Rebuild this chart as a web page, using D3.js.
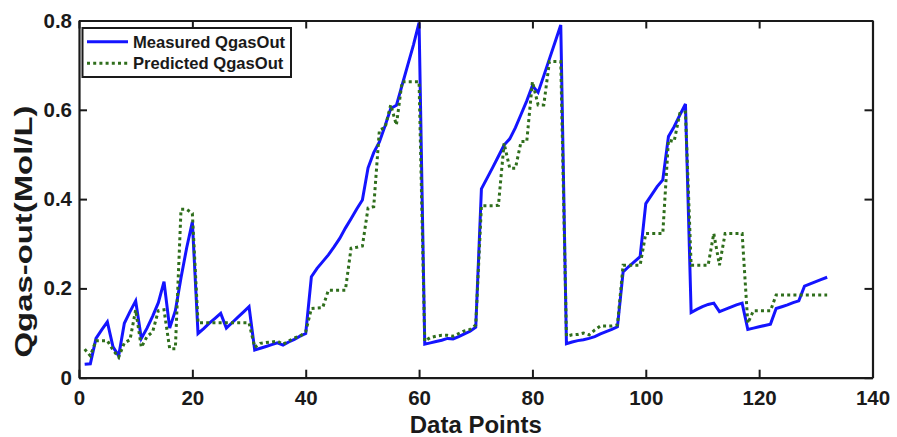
<!DOCTYPE html>
<html>
<head>
<meta charset="utf-8">
<script src="https://cdn.jsdelivr.net/npm/d3@7"></script>
<style>
  html, body { margin: 0; padding: 0; background: #fff; }
  svg { display: block; font-family: "Liberation Sans", Arial, sans-serif; font-weight: bold; }
</style>
</head>
<body>
<svg id="chart" width="897" height="437"></svg>
<script>
// Sample index along the x axis
const dataPoints = d3.range(1, 133);

// Measured gas outflow (Mol/L)
const measured = [
  0.030, 0.031, 0.088, 0.107, 0.125, 0.069, 0.049, 0.122, 0.148, 0.172,
  0.088, 0.111, 0.138, 0.168, 0.215, 0.111, 0.150, 0.224, 0.291, 0.349,
  0.099, 0.110, 0.122, 0.133, 0.144, 0.111, 0.123, 0.135, 0.147, 0.159,
  0.062, 0.066, 0.070, 0.074, 0.078, 0.073, 0.080, 0.086, 0.093, 0.099,
  0.226, 0.245, 0.260, 0.275, 0.293, 0.312, 0.335, 0.356, 0.378, 0.398,
  0.470, 0.504, 0.528, 0.564, 0.603, 0.610, 0.655, 0.700, 0.745, 0.795,
  0.075, 0.078, 0.081, 0.084, 0.088, 0.087, 0.092, 0.098, 0.104, 0.113,
  0.423, 0.447, 0.471, 0.496, 0.521, 0.535, 0.560, 0.590, 0.620, 0.654,
  0.639, 0.676, 0.714, 0.752, 0.790, 0.076, 0.080, 0.083, 0.085, 0.088,
  0.092, 0.098, 0.103, 0.108, 0.114, 0.237, 0.249, 0.260, 0.271, 0.390,
  0.409, 0.428, 0.443, 0.540, 0.562, 0.588, 0.613, 0.146, 0.153, 0.159,
  0.164, 0.167, 0.148, 0.153, 0.158, 0.163, 0.167, 0.108, 0.111, 0.114,
  0.117, 0.120, 0.155, 0.159, 0.163, 0.168, 0.172, 0.205, 0.210, 0.215,
  0.220, 0.225
];

// Model-predicted gas outflow (Mol/L)
const predicted = [
  0.064, 0.049, 0.083, 0.083, 0.083, 0.062, 0.046, 0.078, 0.085, 0.152,
  0.068, 0.092, 0.103, 0.150, 0.152, 0.065, 0.065, 0.377, 0.377, 0.368,
  0.123, 0.123, 0.123, 0.123, 0.123, 0.123, 0.123, 0.123, 0.123, 0.123,
  0.068, 0.077, 0.079, 0.080, 0.082, 0.075, 0.082, 0.089, 0.093, 0.103,
  0.155, 0.156, 0.157, 0.196, 0.196, 0.196, 0.196, 0.290, 0.292, 0.295,
  0.380, 0.383, 0.555, 0.560, 0.611, 0.566, 0.663, 0.663, 0.663, 0.663,
  0.082, 0.090, 0.093, 0.095, 0.095, 0.093, 0.099, 0.105, 0.108, 0.118,
  0.385, 0.385, 0.385, 0.386, 0.525, 0.469, 0.469, 0.529, 0.529, 0.663,
  0.611, 0.611, 0.708, 0.708, 0.708, 0.093, 0.096, 0.097, 0.100, 0.096,
  0.107, 0.116, 0.116, 0.116, 0.118, 0.252, 0.252, 0.252, 0.252, 0.323,
  0.323, 0.323, 0.323, 0.532, 0.529, 0.592, 0.595, 0.252, 0.252, 0.252,
  0.252, 0.323, 0.252, 0.323, 0.323, 0.323, 0.323, 0.122, 0.150, 0.150,
  0.150, 0.150, 0.185, 0.185, 0.185, 0.185, 0.185, 0.185, 0.185, 0.185,
  0.185, 0.185
];

const xTicks = [0, 20, 40, 60, 80, 100, 120, 140];
const yTicks = [0, 0.2, 0.4, 0.6, 0.8];
const seriesNames = ["Measured QgasOut", "Predicted QgasOut"];
const xTitle = "Data Points";
const yTitle = "Qgas-out(Mol/L)";

const svg = d3.select("#chart");
const margin = { left: 79, top: 20.5, right: 897 - 872.5, bottom: 437 - 377.7 };
const W = 897 - margin.left - margin.right;
const H = 437 - margin.top - margin.bottom;
const ink = "#1a1a1a";

const x = d3.scaleLinear().domain([0, 140]).range([0, W]);
const y = d3.scaleLinear().domain([0, 0.8]).range([H, 0]);

const g = svg.append("g").attr("transform", `translate(${margin.left},${margin.top})`);

// Clip so lines stay inside the frame
g.append("clipPath").attr("id", "plot-clip")
  .append("rect").attr("width", W).attr("height", H);

const line = (vals) => d3.line()
  .x((d, i) => x(dataPoints[i]))
  .y(d => y(d))(vals);

const plot = g.append("g").attr("clip-path", "url(#plot-clip)");

plot.append("path")
  .attr("d", line(measured))
  .attr("fill", "none")
  .attr("stroke", "#1414ff")
  .attr("stroke-width", 3)
  .attr("stroke-linejoin", "miter");

plot.append("path")
  .attr("d", line(predicted))
  .attr("fill", "none")
  .attr("stroke", "#2f6e1c")
  .attr("stroke-width", 3)
  .attr("stroke-dasharray", "3,3.2");

// Axes with inward ticks, mirrored on top and right
const tickLen = 8;
const styleAxis = sel => {
  sel.selectAll(".domain").attr("stroke", ink).attr("stroke-width", 2.2);
  sel.selectAll(".tick line").attr("stroke", ink).attr("stroke-width", 2);
  sel.selectAll(".tick text").attr("fill", ink)
    .style("font-family", '"Liberation Sans", Arial, sans-serif')
    .style("font-weight", "bold").style("font-size", "20.5px");
};

g.append("g").attr("transform", `translate(0,${H})`)
  .call(d3.axisBottom(x).tickValues(xTicks).tickFormat(d3.format("d"))
    .tickSize(-tickLen).tickSizeOuter(0).tickPadding(13))
  .call(styleAxis);

g.append("g")
  .call(d3.axisTop(x).tickValues(xTicks).tickFormat("")
    .tickSize(-tickLen).tickSizeOuter(0))
  .call(styleAxis);

g.append("g")
  .call(d3.axisLeft(y).tickValues(yTicks).tickFormat(d => d === 0 ? "0" : d3.format(".1f")(d))
    .tickSize(-tickLen).tickSizeOuter(0).tickPadding(7))
  .call(styleAxis);

g.append("g").attr("transform", `translate(${W},0)`)
  .call(d3.axisRight(y).tickValues(yTicks).tickFormat("")
    .tickSize(-tickLen).tickSizeOuter(0))
  .call(styleAxis);

// Axis titles
svg.append("text")
  .attr("x", margin.left + W / 2).attr("y", 433)
  .attr("text-anchor", "middle")
  .attr("fill", ink).style("font-size", "24px")
  .text(xTitle);

svg.append("text")
  .attr("transform", `translate(32,${231.5}) rotate(-90)`)
  .attr("text-anchor", "middle")
  .attr("textLength", 252).attr("lengthAdjust", "spacingAndGlyphs")
  .attr("fill", ink).style("font-size", "24px")
  .text(yTitle);

// Legend
const legend = svg.append("g").attr("transform", "translate(82.5,28)");
legend.append("rect")
  .attr("width", 208.5).attr("height", 49)
  .attr("fill", "#fff").attr("stroke", ink).attr("stroke-width", 2);

const legendItems = [
  { name: seriesNames[0], color: "#1414ff", dash: null, y: 13.7 },
  { name: seriesNames[1], color: "#2f6e1c", dash: "3,3.2", y: 35.3 }
];
legendItems.forEach(it => {
  legend.append("line")
    .attr("x1", 4.5).attr("x2", 45.5).attr("y1", it.y).attr("y2", it.y)
    .attr("stroke", it.color).attr("stroke-width", 3)
    .attr("stroke-dasharray", it.dash);
  legend.append("text")
    .attr("x", 50.5).attr("y", it.y + 6)
    .attr("fill", ink).style("font-size", "16.6px")
    .text(it.name);
});
</script>
</body>
</html>
